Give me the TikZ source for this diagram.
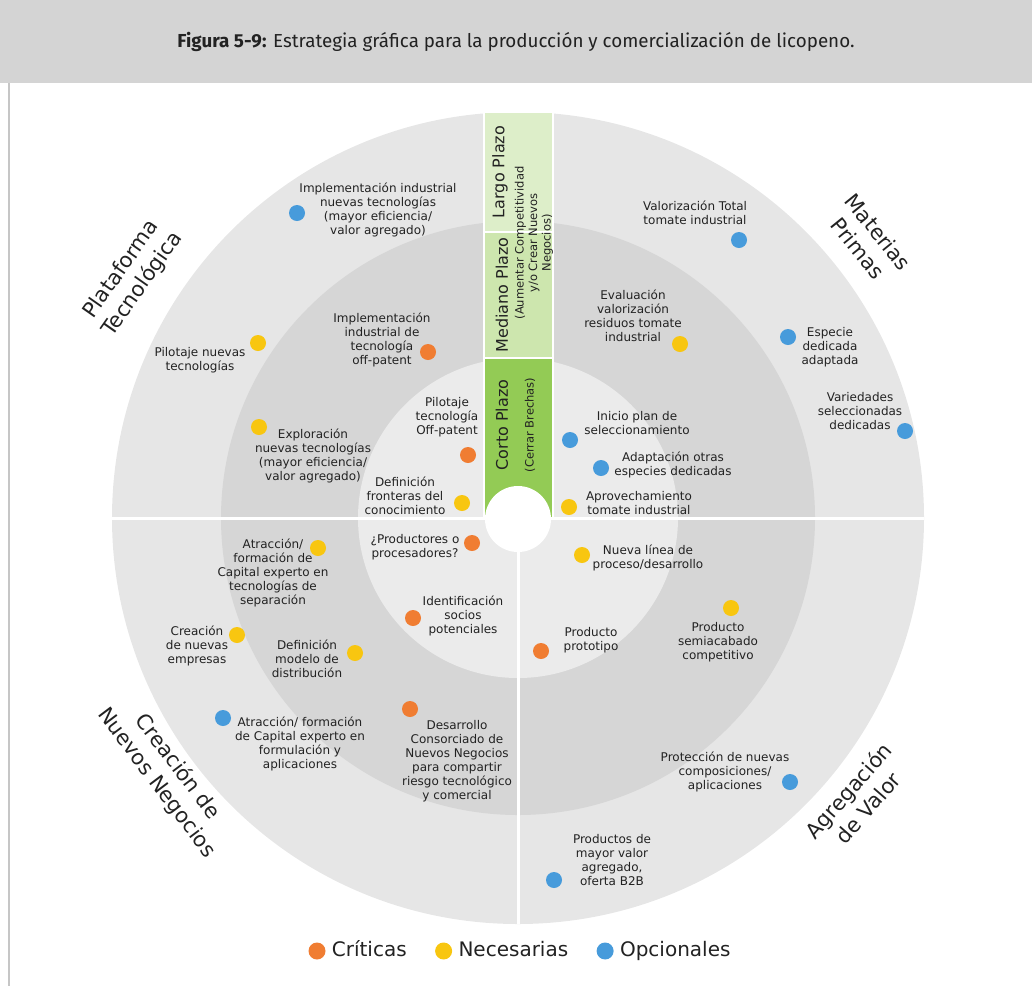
\documentclass[tikz,border=0pt]{standalone}
\usepackage{fontspec}
\setmainfont{DejaVu Sans}
\newfontfamily\titlefont{Fira Sans}
\usetikzlibrary{positioning}
\definecolor{headgray}{HTML}{D4D4D4}
\definecolor{edgegray}{HTML}{C6C6C6}
\definecolor{ringout}{HTML}{E6E6E6}
\definecolor{ringmid}{HTML}{D6D6D6}
\definecolor{ringin}{HTML}{EBEBEB}
\definecolor{largo}{HTML}{DDEEC9}
\definecolor{mediano}{HTML}{CDE6AE}
\definecolor{corto}{HTML}{93CB55}
\definecolor{critcol}{HTML}{F07D32}
\definecolor{neccol}{HTML}{F8C610}
\definecolor{optcol}{HTML}{479BDB}
\definecolor{ink}{HTML}{222222}

\begin{document}
\begin{tikzpicture}[x=1pt, y=-1pt,
  lbl/.style={align=center, inner sep=0pt, text=ink, font=\fontsize{12}{14}\selectfont},
  zone/.style={align=center, inner sep=0pt, text=ink, font=\fontsize{21}{26}\selectfont},
  plazo/.style={rotate=90, inner sep=0pt, text=ink, font=\fontsize{16}{18}\selectfont},
  plazosub/.style={rotate=90, align=center, inner sep=0pt, text=ink, font=\fontsize{11.5}{13.5}\selectfont},
  spot/.style={circle, inner sep=0pt, minimum size=16pt},
  crit/.style={spot, fill=critcol},
  nec/.style={spot, fill=neccol},
  opt/.style={spot, fill=optcol},
  legtxt/.style={inner sep=0pt, text=ink, text height=14.5pt, text depth=4pt, font=\fontsize{20}{24}\selectfont},
]
  \useasboundingbox (0,0) rectangle (1032,986);

  % header band and page edge
  \fill[headgray] (0,0) rectangle (1032,83);
  \node[text=ink, font=\titlefont\fontsize{18.8}{22}\selectfont] (title) at (516,42)
    {\textbf{Figura 5-9:} Estrategia gráfica para la producción y comercialización de licopeno.};
  \draw[edgegray, line width=2pt] (9,83) -- (9,986);

  % rings
  \coordinate (ctr) at (518,518);
  \fill[ringout] (ctr) circle[radius=406];
  \fill[ringmid] (ctr) circle[radius=297];
  \fill[ringin] (ctr) circle[radius=160];
  \draw[white, line width=3pt] (112,518) -- (924,518);
  \draw[white, line width=3pt] (518,518) -- (518,924);

  % time column
  \filldraw[fill=largo, draw=white, line width=1.5pt] (484,112) rectangle (553,232);
  \filldraw[fill=mediano, draw=white, line width=1.5pt] (484,232) rectangle (553,358);
  \filldraw[fill=corto, draw=white, line width=1.5pt] (484,358) rectangle (553,518);
  \fill[white] (518,519) circle[radius=33];
  \node[plazo] (largo) at (500,172) {Largo Plazo};
  \node[plazo] (mediano) at (502,295) {Mediano Plazo};
  \node[plazosub] (medsub) at (534,243) {(Aumentar Competitividad\\y/o Crear Nuevos\\Negocios)};
  \node[plazo] (corto) at (502,425) {Corto Plazo};
  \node[plazosub] (cortosub) at (530,425) {(Cerrar Brechas)};

  % quadrant titles
  \node[zone, rotate=55] (plataforma) at (132,277) {Plataforma\\Tecnológica};
  \node[zone, rotate=-51] (materias) at (868,240) {Materias\\Primas};
  \node[zone, rotate=-53] (creacion) at (167,775) {Creación de\\Nuevos Negocios};
  \node[zone, rotate=49] (agregacion) at (858,799) {Agregación\\de Valor};

  % Plataforma Tecnologica
  \node[opt] (implnd) at (297,213) {};
  \node[lbl] (impln) at (378,210) {Implementación industrial\\nuevas tecnologías\\(mayor eficiencia/\\valor agregado)};
  \node[crit] (imploffd) at (428,352) {};
  \node[lbl] (imploff) at (382,340) {Implementación\\industrial de\\tecnología\\off-patent};
  \node[nec] (pilnd) at (258,343) {};
  \node[lbl] (piln) at (200,360) {Pilotaje nuevas\\tecnologías};
  \node[crit] (piloffd) at (468,455) {};
  \node[lbl] (piloff) at (447,417) {Pilotaje\\tecnología\\Off-patent};
  \node[nec] (explod) at (259,427) {};
  \node[lbl] (explo) at (313,456) {Exploración\\nuevas tecnologías\\(mayor eficiencia/\\valor agregado)};
  \node[nec] (frontd) at (462,503) {};
  \node[lbl] (front) at (405,496) {Definición\\fronteras del\\conocimiento};

  % Materias Primas
  \node[opt] (valtd) at (739,240) {};
  \node[lbl] (valt) at (695,213) {Valorización Total\\tomate industrial};
  \node[nec] (evald) at (680,344) {};
  \node[lbl] (eval) at (633,316) {Evaluación\\valorización\\residuos tomate\\industrial};
  \node[opt] (especd) at (788,337) {};
  \node[lbl] (espec) at (830,347) {Especie\\dedicada\\adaptada};
  \node[opt] (variedd) at (905,431) {};
  \node[lbl] (varied) at (860,411) {Variedades\\seleccionadas\\dedicadas};
  \node[opt] (iniciod) at (570,440) {};
  \node[lbl] (inicio) at (637,423) {Inicio plan de\\seleccionamiento};
  \node[opt] (adaptd) at (601,468) {};
  \node[lbl] (adapt) at (673,465) {Adaptación otras\\especies dedicadas};
  \node[nec] (aprovd) at (569,507) {};
  \node[lbl] (aprov) at (639,503) {Aprovechamiento\\tomate industrial};

  % Creacion de Nuevos Negocios
  \node[crit] (prodd) at (472,543) {};
  \node[lbl] (prod) at (415,547) {¿Productores o\\procesadores?};
  \node[nec] (atrsepd) at (318,548) {};
  \node[lbl] (atrsep) at (273,573) {Atracción/\\formación de\\Capital experto en\\tecnologías de\\separación};
  \node[crit] (sociosd) at (413,618) {};
  \node[lbl] (socios) at (463,616) {Identificación\\socios\\potenciales};
  \node[nec] (empd) at (237,635) {};
  \node[lbl] (emp) at (197,646) {Creación\\de nuevas\\empresas};
  \node[nec] (distd) at (355,653) {};
  \node[lbl] (dist) at (307,659) {Definición\\modelo de\\distribución};
  \node[opt] (atrford) at (223,718) {};
  \node[lbl] (atrfor) at (300,744) {Atracción/ formación\\de Capital experto en\\formulación y\\aplicaciones};
  \node[crit] (consd) at (410,709) {};
  \node[lbl] (cons) at (457,761) {Desarrollo\\Consorciado de\\Nuevos Negocios\\para compartir\\riesgo tecnológico\\y comercial};

  % Agregacion de Valor
  \node[nec] (linead) at (582,555) {};
  \node[lbl] (linea) at (648,558) {Nueva línea de\\proceso/desarrollo};
  \node[nec] (semid) at (731,608) {};
  \node[lbl] (semi) at (718,642) {Producto\\semiacabado\\competitivo};
  \node[crit] (protod) at (541,651) {};
  \node[lbl] (proto) at (591,640) {Producto\\prototipo};
  \node[opt] (protecd) at (790,782) {};
  \node[lbl] (protec) at (725,772) {Protección de nuevas\\composiciones/\\aplicaciones};
  \node[opt] (btobd) at (554,880) {};
  \node[lbl] (btob) at (612,860) {Productos de\\mayor valor\\agregado,\\oferta B2B};

  % legend
  \node[crit, minimum size=17pt] (legc) at (317,951) {};
  \node[legtxt, right=6pt of legc] (legct) {Críticas};
  \node[nec, minimum size=17pt, right=28pt of legct] (legn) {};
  \node[legtxt, right=6pt of legn] (legnt) {Necesarias};
  \node[opt, minimum size=17pt, right=28pt of legnt] (lego) {};
  \node[legtxt, right=6pt of lego] (legot) {Opcionales};
\end{tikzpicture}
\end{document}
